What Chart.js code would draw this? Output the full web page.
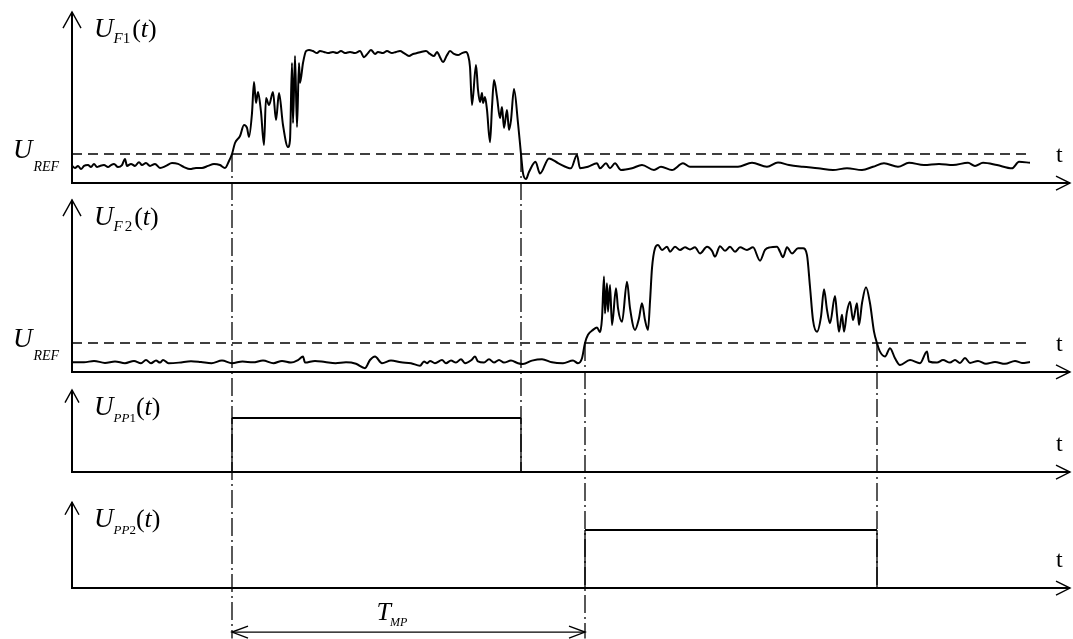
<!DOCTYPE html>
<html>
<head>
<meta charset="utf-8">
<script src="https://cdn.jsdelivr.net/npm/chart.js@4.4.1/dist/chart.umd.min.js"></script>
<style>
  html, body { margin: 0; padding: 0; background: #fff; }
  #wrap { width: 1073px; height: 639px; }
</style>
</head>
<body>
<div id="wrap"><canvas id="timing" width="1073" height="639"></canvas></div>
<script>
// traces: [time, volts]
const f1Samples = [
  [0.0,0.59],[0.3,0.52],[0.6,0.59],[0.9,0.48],[1.2,0.59],[1.6,0.62],[1.9,0.55],[2.2,0.66],[2.5,0.55],[2.8,0.59],
  [3.2,0.62],[3.6,0.55],[3.9,0.62],[4.2,0.66],[4.6,0.55],[5.0,0.62],[5.3,0.83],[5.5,0.59],[5.9,0.66],[6.3,0.59],
  [6.7,0.72],[7.0,0.62],[7.4,0.69],[7.8,0.59],[8.3,0.66],[8.8,0.52],[9.4,0.59],[10.0,0.69],[10.6,0.66],[11.2,0.55],
  [11.8,0.48],[12.4,0.52],[13.0,0.52],[13.6,0.59],[14.2,0.66],[14.8,0.62],[15.3,0.52],[15.7,0.76],[16.0,1.00],
  [16.3,1.38],[16.8,1.62],[17.2,2.00],[17.5,1.90],[17.7,1.59],[18.0,2.41],[18.2,3.48],[18.4,2.76],[18.6,3.14],
  [18.9,2.45],[19.2,1.31],[19.4,2.93],[19.7,2.69],[20.1,3.14],[20.4,2.17],[20.7,3.10],[21.1,2.00],[21.6,1.24],
  [21.8,1.48],[22.0,4.14],[22.1,2.07],[22.3,4.38],[22.5,1.93],[22.7,4.14],[22.8,3.45],[23.1,4.14],[23.4,4.55],
  [23.7,4.59],[24.1,4.55],[24.5,4.48],[24.8,4.55],[25.2,4.52],[25.6,4.48],[26.1,4.52],[26.5,4.48],[26.9,4.55],
  [27.3,4.48],[27.8,4.52],[28.3,4.48],[28.8,4.55],[29.2,4.34],[29.6,4.48],[29.9,4.59],[30.3,4.45],[30.6,4.52],
  [31.1,4.48],[31.5,4.55],[32.0,4.48],[32.4,4.52],[32.8,4.55],[33.2,4.48],[33.7,4.38],[34.1,4.45],[34.5,4.48],
  [34.9,4.52],[35.4,4.55],[35.8,4.45],[36.2,4.38],[36.5,4.52],[36.8,4.34],[37.1,4.17],[37.5,4.41],[37.8,4.55],
  [38.2,4.45],[38.6,4.41],[39.0,4.48],[39.4,4.52],[39.6,4.41],[39.8,4.00],[40.0,2.69],[40.4,4.07],[40.6,3.21],
  [40.8,2.79],[41.0,3.10],[41.1,2.76],[41.3,2.97],[41.5,2.52],[41.8,1.41],[42.0,2.62],[42.2,3.55],[42.5,2.97],
  [42.8,2.24],[43.0,2.62],[43.2,1.90],[43.5,2.52],[43.7,1.83],[43.9,2.17],[44.2,3.24],[44.6,2.07],[44.9,1.00],
  [45.1,0.34],[45.4,0.14],[45.7,0.38],[46.35,0.73],[46.8,0.33],[47.7,0.85],[48.65,0.68],[49.9,0.51],[50.5,0.97],
  [50.8,0.51],[51.6,0.56],[52.5,0.68],[52.8,0.51],[53.4,0.68],[53.8,0.51],[54.3,0.68],[54.9,0.45],[56.0,0.51],
  [57.0,0.62],[58.2,0.45],[58.9,0.56],[60.0,0.45],[61.1,0.68],[61.8,0.56],[63.3,0.56],[66.6,0.56],[68.0,0.70],
  [69.5,0.56],[70.6,0.71],[71.7,0.62],[73.1,0.56],[74.6,0.51],[76.1,0.45],[77.5,0.51],[79.0,0.45],[80.1,0.56],
  [81.2,0.68],[82.6,0.56],[83.7,0.70],[85.2,0.62],[86.7,0.66],[88.1,0.62],[89.6,0.70],[90.3,0.59],[91.1,0.70],
  [92.5,0.62],[94.0,0.51],[94.7,0.73],[95.8,0.70]
];

const f2Samples = [
  [0.0,0.33],[1.2,0.33],[2.2,0.38],[3.3,0.31],[4.3,0.36],[5.3,0.30],[6.2,0.38],[6.9,0.30],[7.4,0.41],[7.9,0.30],
  [8.4,0.39],[8.8,0.32],[9.1,0.41],[9.65,0.30],[10.7,0.32],[11.9,0.37],[12.9,0.34],[13.95,0.30],[15.0,0.39],
  [16.0,0.30],[17.05,0.36],[18.1,0.33],[19.1,0.39],[20.15,0.30],[21.0,0.38],[21.9,0.32],[22.6,0.41],[23.1,0.53],
  [23.3,0.32],[24.3,0.38],[25.3,0.34],[26.35,0.30],[27.4,0.33],[28.4,0.28],[29.3,0.13],[29.8,0.41],[30.3,0.53],
  [31.0,0.30],[31.9,0.39],[32.9,0.33],[33.9,0.30],[34.8,0.21],[35.2,0.36],[35.5,0.30],[35.8,0.38],[36.3,0.30],
  [37.0,0.41],[37.4,0.30],[37.9,0.39],[38.4,0.32],[38.9,0.44],[39.3,0.30],[39.95,0.41],[40.3,0.53],[40.6,0.36],
  [41.2,0.32],[41.7,0.44],[42.2,0.32],[42.7,0.41],[43.2,0.32],[43.9,0.39],[44.6,0.30],[45.1,0.27],[46.0,0.39],
  [47.0,0.44],[48.0,0.33],[49.1,0.30],[50.1,0.39],[50.6,0.30],[51.0,0.47],[51.3,1.00],[51.6,1.28],[52.1,1.45],
  [52.5,1.53],[52.8,1.37],[53.0,1.85],[53.2,3.29],[53.3,2.02],[53.5,3.06],[53.6,2.08],[53.8,3.00],[54.0,1.62],
  [54.4,2.89],[54.6,2.20],[55.0,1.73],[55.5,3.11],[55.8,2.20],[56.3,1.45],[56.7,1.85],[57.0,2.37],[57.3,1.79],
  [57.6,1.45],[57.8,2.42],[58.0,3.58],[58.3,4.27],[58.6,4.38],[59.0,4.21],[59.5,4.32],[59.8,4.15],[60.3,4.32],
  [60.8,4.21],[61.3,4.30],[61.8,4.23],[62.3,4.30],[62.8,4.09],[63.5,4.32],[64.0,4.18],[64.3,3.98],[64.8,4.34],
  [65.3,4.18],[65.8,4.32],[66.3,4.15],[66.8,4.30],[67.5,4.21],[68.1,4.30],[68.8,3.84],[69.3,4.21],[69.8,4.30],
  [70.5,4.32],[70.8,4.15],[71.1,3.96],[71.5,4.30],[72.0,4.09],[72.6,4.27],[73.1,4.27],[73.5,4.03],[73.8,2.94],
  [74.1,1.79],[74.5,1.39],[74.9,1.91],[75.2,2.85],[75.5,2.14],[75.8,1.68],[76.3,2.62],[76.5,1.97],[76.7,1.39],
  [77.0,1.97],[77.2,1.39],[77.5,2.08],[77.8,2.42],[78.1,1.79],[78.5,2.37],[78.7,1.62],[79.0,2.37],[79.4,2.92],
  [79.8,2.37],[80.2,1.39],[80.5,0.99],[80.8,0.70],[81.3,0.53],[81.8,0.82],[82.3,0.47],[82.8,0.24],[83.8,0.41],
  [84.8,0.30],[85.5,0.70],[85.7,0.36],[86.5,0.32],[87.1,0.41],[87.8,0.32],[88.3,0.41],[88.8,0.31],[89.3,0.48],
  [89.8,0.31],[90.6,0.38],[91.4,0.28],[92.3,0.34],[93.3,0.28],[94.3,0.38],[95.0,0.31],[95.8,0.34]
];

const uRef = 1.0;
const refEnd = 96.0;
const pp1Edges = [16.0, 44.9];
const pp2Edges = [51.3, 80.5];
const pulseHigh = 1.0;
const tmpSpan = [16.0, 51.3];

const ink = "#000";
const serif = '"Liberation Serif", "DejaVu Serif", serif';

// one stacked y axis per trace, top to bottom
const panels = [
  { id: "y1", min: -0.24, max: 6.31, h: 190, order: 4, top: 5.9, head: 9,
    label: [["U", 27, true, 0], ["F", 15, true, 6], ["1", 15, false, 6], ["(", 26, false, 0, 2], ["t", 26, true, 0], [")", 26, false, 0]], ref: true },
  { id: "y2", min: -0.28, max: 6.28, h: 190, order: 3, top: 5.94, head: 9,
    label: [["U", 27, true, 0], ["F", 15, true, 6], ["2", 15, false, 6, 2], ["(", 26, false, 0, 2], ["t", 26, true, 0], [")", 26, false, 0]], ref: true },
  { id: "y3", min: -0.444, max: 1.704, h: 116, order: 2, top: 1.52, head: 7,
    label: [["U", 27, true, 0], ["PP", 13, true, 7], ["1", 13, false, 7], ["(", 26, false, 0], ["t", 26, true, 0], [")", 26, false, 0]] },
  { id: "y4", min: -0.879, max: 1.586, h: 143, order: 1, top: 1.48, head: 7,
    label: [["U", 27, true, 0], ["PP", 13, true, 7], ["2", 13, false, 7], ["(", 26, false, 0], ["t", 26, true, 0], [")", 26, false, 0]] }
];
const axisEnd = 99.8;
const bottomLevel = -0.87;
const tmpLevel = -0.76;

const markers = [
  { t: pp1Edges[0], from: ["y1", uRef], to: ["y4", bottomLevel] },
  { t: pp1Edges[1], from: ["y1", uRef], to: ["y3", 0] },
  { t: pp2Edges[0], from: ["y2", uRef], to: ["y4", bottomLevel] },
  { t: pp2Edges[1], from: ["y2", uRef], to: ["y4", 0] }
];

const toXY = (rows) => rows.map(([x, y]) => ({ x, y }));
const pulse = ([t0, t1]) => [
  { x: t0, y: 0 }, { x: t0, y: pulseHigh }, { x: t1, y: pulseHigh }, { x: t1, y: 0 }
];

const trace = (rows, yAxisID) => ({
  data: toXY(rows), yAxisID, borderColor: ink, borderWidth: 2,
  pointRadius: 0, cubicInterpolationMode: "monotone", fill: false
});
const refLine = (yAxisID) => ({
  data: [{ x: 0, y: uRef }, { x: refEnd, y: uRef }], yAxisID,
  borderColor: ink, borderWidth: 1.5, borderDash: [10, 6], pointRadius: 0
});
const pulseLine = (edges, yAxisID) => ({
  data: pulse(edges), yAxisID, borderColor: ink, pointRadius: 0, tension: 0,
  borderWidth: 1.3,
  segment: { borderWidth: (c) => (c.p0.parsed.y === c.p1.parsed.y ? 2.2 : 1.3) }
});

function line(ctx, pts) {
  ctx.beginPath();
  ctx.moveTo(pts[0][0], pts[0][1]);
  for (let i = 1; i < pts.length; i++) ctx.lineTo(pts[i][0], pts[i][1]);
  ctx.stroke();
}

function drawParts(ctx, x, y, parts) {
  parts.forEach(([text, size, italic, dy, gap]) => {
    x += gap || 0;
    ctx.font = (italic ? "italic " : "") + size + "px " + serif;
    ctx.fillText(text, x, y + dy);
    x += ctx.measureText(text).width;
  });
}

const diagram = {
  id: "diagram",
  beforeDatasetsDraw(chart) {
    const { ctx, scales } = chart;
    const xs = scales.x;
    const x0 = xs.getPixelForValue(0);
    const xe = xs.getPixelForValue(axisEnd);
    ctx.save();
    ctx.strokeStyle = ink;
    panels.forEach((p) => {
      const ys = scales[p.id];
      const y0 = ys.getPixelForValue(0);
      const yt = ys.getPixelForValue(p.top);
      ctx.lineWidth = 2;
      line(ctx, [[x0, y0], [xe, y0]]);
      line(ctx, [[x0, y0 + 1], [x0, yt]]);
      ctx.lineWidth = 1.4;
      line(ctx, [[xe - 14, y0 - 7], [xe, y0], [xe - 14, y0 + 7]]);
      line(ctx, [[x0 - p.head, yt + p.head * 1.8], [x0, yt], [x0 + p.head, yt + p.head * 1.8]]);
    });

    // dash-dot event lines
    ctx.lineWidth = 1.3;
    ctx.setLineDash([18, 4, 2, 4]);
    markers.forEach((m) => {
      const px = xs.getPixelForValue(m.t);
      line(ctx, [[px, scales[m.from[0]].getPixelForValue(m.from[1])],
                 [px, scales[m.to[0]].getPixelForValue(m.to[1])]]);
    });
    ctx.setLineDash([]);

    // T_MP dimension line
    const ty = scales.y4.getPixelForValue(tmpLevel);
    const ta = xs.getPixelForValue(tmpSpan[0]);
    const tb = xs.getPixelForValue(tmpSpan[1]);
    ctx.lineWidth = 1.4;
    line(ctx, [[ta, ty], [tb, ty]]);
    line(ctx, [[ta + 16, ty - 6], [ta, ty], [ta + 16, ty + 6]]);
    line(ctx, [[tb - 16, ty - 6], [tb, ty], [tb - 16, ty + 6]]);
    ctx.restore();
  },
  afterDatasetsDraw(chart) {
    const { ctx, scales } = chart;
    const xs = scales.x;
    const x0 = xs.getPixelForValue(0);
    ctx.save();
    ctx.fillStyle = ink;
    ctx.textBaseline = "alphabetic";
    panels.forEach((p) => {
      const ys = scales[p.id];
      const y0 = ys.getPixelForValue(0);
      const yt = ys.getPixelForValue(p.top);
      drawParts(ctx, x0 + 22, yt + 25, p.label);
      ctx.font = "24px " + serif;
      ctx.fillText("t", 1056, y0 - 21);
      if (p.ref) {
        const yr = ys.getPixelForValue(uRef);
        drawParts(ctx, 13, yr + 4, [["U", 27, true, 0], ["REF", 14, true, 13, 1]]);
      }
    });
    const ty = scales.y4.getPixelForValue(tmpLevel);
    const tc = (xs.getPixelForValue(tmpSpan[0]) + xs.getPixelForValue(tmpSpan[1])) / 2;
    drawParts(ctx, tc - 32, ty - 12, [["T", 26, true, 0], ["MP", 12, true, 6, -1]]);
    ctx.restore();
  }
};

const scales = {
  x: { type: "linear", min: -7.2, max: 100.1, display: false }
};
panels.forEach((p) => {
  scales[p.id] = {
    type: "linear", position: "left", stack: "traces", stackWeight: p.h,
    weight: p.order, min: p.min, max: p.max, display: false
  };
});

new Chart(document.getElementById("timing"), {
  type: "line",
  data: {
    datasets: [
      trace(f1Samples, "y1"),
      refLine("y1"),
      trace(f2Samples, "y2"),
      refLine("y2"),
      pulseLine(pp1Edges, "y3"),
      pulseLine(pp2Edges, "y4")
    ]
  },
  options: {
    responsive: false,
    animation: false,
    events: [],
    layout: { padding: 0 },
    plugins: { legend: { display: false }, tooltip: { enabled: false } },
    scales
  },
  plugins: [diagram]
});
</script>
</body>
</html>
